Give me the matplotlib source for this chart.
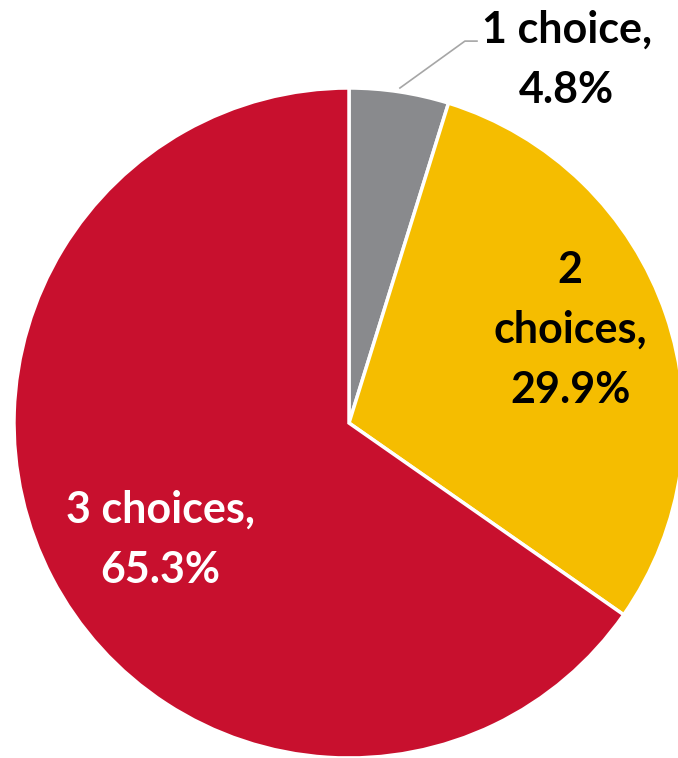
import matplotlib
matplotlib.use("Agg")
import matplotlib.pyplot as plt

# Pie data (clockwise from 12 o'clock)
categories = ["1 choice", "2 choices", "3 choices"]
shares = [4.8, 29.9, 65.3]
colors = ["#898A8D", "#F5BD00", "#C8102E"]

W, H = 678, 758
fig = plt.figure(figsize=(W / 100, H / 100), dpi=100)
fig.patch.set_facecolor("white")

# pie centre ~ (349, 423) px, radius ~335 px
cx, cy, r = 349, 423, 335
ax = fig.add_axes([(cx - r) / W, (H - cy - r) / H, 2 * r / W, 2 * r / H])

wedges, _ = ax.pie(shares, colors=colors, startangle=90, counterclock=False,
                   radius=1, center=(0, 0),
                   wedgeprops=dict(edgecolor="white", linewidth=2.5))
for w in wedges:
    w.set_clip_on(False)
ax.set_xlim(-1, 1)
ax.set_ylim(-1, 1)
ax.axis("off")

font = dict(family=["Lato", "DejaVu Sans"], fontweight="bold", fontsize=31,
            ha="center", va="center", linespacing=1.6)

ax.text(0.65, 1.084, f"{categories[0]},\n{shares[0]}%", color="black",
        clip_on=False, **font)
ax.text(0.66, 0.278, "2\nchoices,\n" + f"{shares[1]}%", color="black", **font)
ax.text(-0.564, -0.349, f"{categories[2]},\n{shares[2]}%", color="white", **font)

# leader line for the small slice
ax.plot([0.152, 0.346, 0.382], [1.0, 1.140, 1.140], color="#A6A6A6",
        linewidth=1.2, clip_on=False)

fig.savefig("out.png", dpi=100)
